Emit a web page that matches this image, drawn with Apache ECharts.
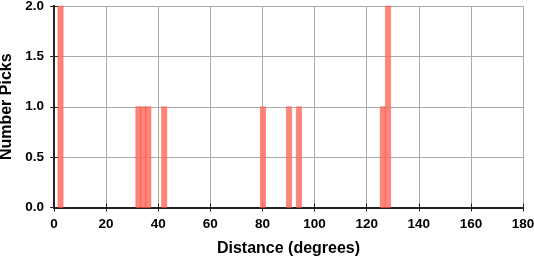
<!DOCTYPE html>
<html>
<head>
<meta charset="utf-8">
<script src="https://cdn.jsdelivr.net/npm/echarts@6/dist/echarts.min.js"></script>
<style>html,body{margin:0;padding:0;background:#fff;}#c{width:534px;height:258px;}</style>
</head>
<body>
<div id="c"></div>
<script>
var binCenters = [2.5, 32.4, 34.3, 36.2, 42.3, 80.2, 90.2, 94.0, 126.2, 128.2];
var binCounts = [2, 1, 1, 1, 1, 1, 1, 1, 1, 2];
var binWidth = 2;
var xTicks = [0, 20, 40, 60, 80, 100, 120, 140, 160, 180];
var yTicks = [0.0, 0.5, 1.0, 1.5, 2.0];

var data = binCenters.map(function (c, i) { return [c, binCounts[i]]; });
var font = 'Liberation Sans, Arial, Helvetica, sans-serif';
var chart = echarts.init(document.getElementById('c'), null, {renderer: 'canvas'});
var axisLine = {show: true, lineStyle: {color: '#222', width: 2}};
var tick = {show: true, inside: false, length: 4, lineStyle: {color: '#222', width: 1}};
chart.setOption({
  animation: false,
  backgroundColor: '#fff',
  grid: {left: 54, right: 11, top: 6, bottom: 50.5, containLabel: false, outerBoundsMode: 'none'},
  xAxis: [{
    type: 'value', min: 0, max: 180, interval: 20, position: 'bottom',
    name: 'Distance (degrees)', nameLocation: 'middle', nameGap: 33,
    nameTextStyle: {fontFamily: font, fontWeight: 'bold', fontSize: 16, color: '#000'},
    axisLine: axisLine, axisTick: tick,
    axisLabel: {fontFamily: font, fontWeight: 'bold', fontSize: 13.5, color: '#000', margin: 10,
      formatter: function (v) { return xTicks.indexOf(v) >= 0 ? String(v) : ''; }},
    splitLine: {show: true, lineStyle: {color: '#aaa', width: 1}}
  }, {
    type: 'value', min: 0, max: 180, interval: 20, position: 'top',
    axisLine: axisLine, axisTick: tick, axisLabel: {show: false}, splitLine: {show: false}
  }],
  yAxis: [{
    type: 'value', min: 0, max: 2, interval: 0.5, position: 'left',
    name: 'Number Picks', nameLocation: 'middle', nameGap: 39, nameRotate: 90,
    nameTextStyle: {fontFamily: font, fontWeight: 'bold', fontSize: 16, color: '#000'},
    axisLine: axisLine, axisTick: tick,
    axisLabel: {fontFamily: font, fontWeight: 'bold', fontSize: 13.5, color: '#000', margin: 10,
      formatter: function (v) { return yTicks.indexOf(v) >= 0 ? v.toFixed(1) : ''; }},
    splitLine: {show: true, lineStyle: {color: '#aaa', width: 1}}
  }, {
    type: 'value', min: 0, max: 2, interval: 0.5, position: 'right',
    axisLine: axisLine, axisTick: tick, axisLabel: {show: false}, splitLine: {show: false}
  }],
  series: [{
    type: 'custom',
    xAxisIndex: 0, yAxisIndex: 0,
    data: data,
    renderItem: function (params, api) {
      var x = api.value(0), y = api.value(1);
      var p0 = api.coord([x - binWidth / 2, y]);
      var p1 = api.coord([x + binWidth / 2, 0]);
      return {
        type: 'rect',
        shape: {x: p0[0], y: p0[1], width: p1[0] - p0[0], height: p1[1] - p0[1]},
        style: {fill: 'rgba(255,112,98,0.85)', stroke: 'rgba(235,80,70,0.7)', lineWidth: 0.6}
      };
    }
  }]
});
</script>
</body>
</html>
